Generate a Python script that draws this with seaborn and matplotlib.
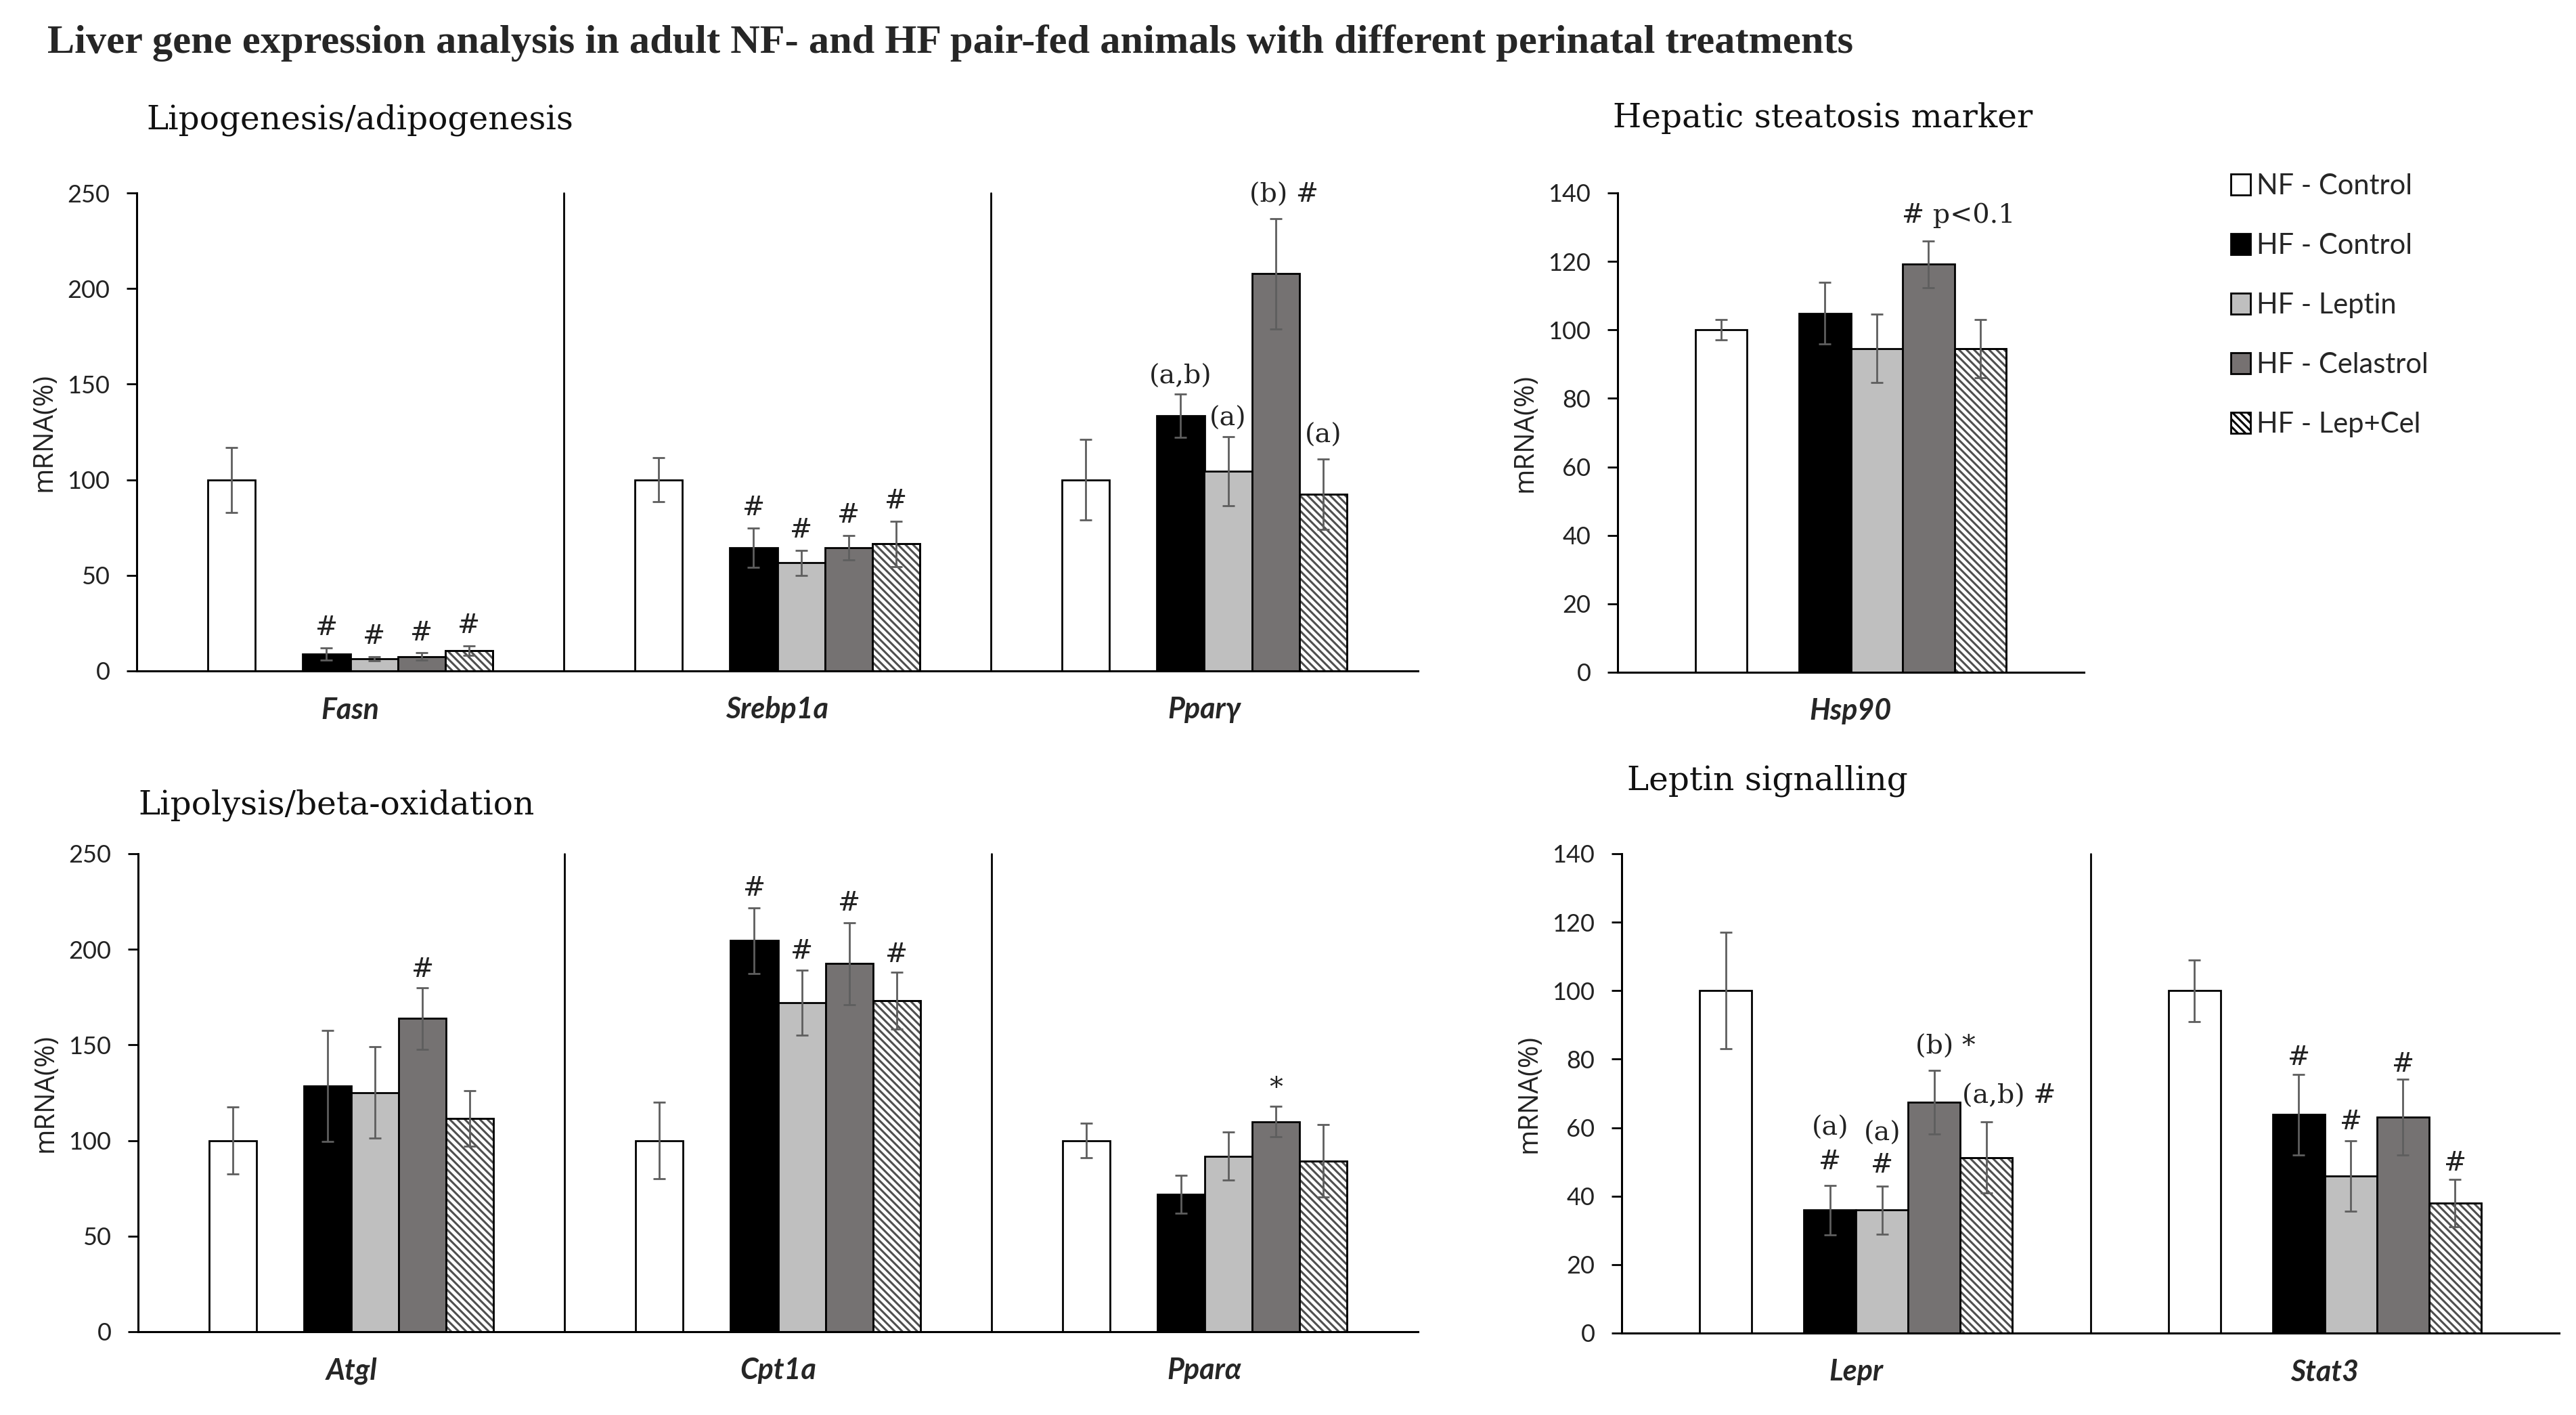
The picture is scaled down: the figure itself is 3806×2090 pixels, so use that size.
import numpy as np
import pandas as pd
import matplotlib
matplotlib.use("Agg")
import matplotlib.pyplot as plt
from matplotlib.patches import Patch
import seaborn as sns

# groups and bar styles
groups = ["NF - Control", "HF - Control", "HF - Leptin", "HF - Celastrol", "HF - Lep+Cel"]
colors = ["white", "black", "#bfbfbf", "#767171", "white"]
BLANK = " "

# Lipogenesis/adipogenesis (rows = genes, cols = groups)
lipo_genes = ["Fasn", "Srebp1a", "Pparγ"]
lipo_mean = [[100, 8.8, 6.4, 7.6, 10.7],
             [100, 64.5, 56.6, 64.5, 66.4],
             [100, 133.5, 104.5, 207.7, 92.4]]
lipo_err = [[17, 3.3, 1.0, 1.8, 2.5],
            [11.5, 10.3, 6.5, 6.3, 11.8],
            [21, 11.5, 18, 28.7, 18.5]]

# Hepatic steatosis marker
hep_genes = ["Hsp90"]
hep_mean = [[100, 104.9, 94.6, 119.2, 94.6]]
hep_err = [[3, 9, 10, 6.8, 8.5]]

# Lipolysis/beta-oxidation
beta_genes = ["Atgl", "Cpt1a", "Pparα"]
beta_mean = [[100, 128.6, 125.1, 163.8, 111.5],
             [100, 204.5, 172, 192.5, 173.2],
             [100, 71.8, 91.8, 109.9, 89.3]]
beta_err = [[17.6, 29, 24, 16, 14.6],
            [20, 17, 17, 21.5, 15],
            [9, 10, 12.5, 8, 19]]

# Leptin signalling
lep_genes = ["Lepr", "Stat3"]
lep_mean = [[100, 35.9, 35.9, 67.4, 51.3],
            [100, 63.8, 45.8, 63.1, 38]]
lep_err = [[17, 7.2, 7, 9.3, 10.4],
           [9, 11.7, 10.3, 11, 6.9]]

# significance labels: (gene, group, text, dx pt, dy pt above error bar)
lipo_notes = [(0, 1, "#", 0, 21), (0, 2, "#", 0, 21), (0, 3, "#", 0, 21), (0, 4, "#", 0, 21),
              (1, 1, "#", 0, 21), (1, 2, "#", 0, 21), (1, 3, "#", 0, 21), (1, 4, "#", 0, 21),
              (2, 1, "(a,b)", 0, 18), (2, 2, "(a)", 0, 19), (2, 3, "(b) #", 9, 25), (2, 4, "(a)", 0, 25)]
hep_notes = [(0, 3, "# p<0.1", 32, 27)]
beta_notes = [(0, 3, "#", 0, 19), (1, 1, "#", 0, 21), (1, 2, "#", 0, 20), (1, 3, "#", 0, 20),
              (1, 4, "#", 0, 18), (2, 3, "*", 0, 19)]
lep_notes = [(0, 1, "#", 0, 25), (0, 1, "(a)", 0, 61), (0, 2, "#", 0, 22), (0, 2, "(a)", 0, 56),
             (0, 3, "(b) *", 12, 25), (0, 4, "(a,b) #", 24, 27),
             (1, 1, "#", 0, 18), (1, 2, "#", 0, 20), (1, 3, "#", 0, 16), (1, 4, "#", 0, 17)]

sns.set_theme(style="white")
plt.rcParams["font.family"] = ["Lato", "DejaVu Sans"]
plt.rcParams["hatch.linewidth"] = 2.2

W, H = 3806, 2090
fig = plt.figure(figsize=(W / 100, H / 100), dpi=100)

order = [groups[0], BLANK] + groups[1:]
pal = dict(zip(groups, colors))
pal[BLANK] = "white"
bw = 1 / 9


def draw_panel(rect, genes, mean, err, ymax, ystep, notes):
    ax = fig.add_axes(rect)
    rows = []
    for gi, g in enumerate(genes):
        for k, grp in enumerate(groups):
            rows.append({"gene": g, "group": grp, "value": mean[gi][k]})
    df = pd.DataFrame(rows)
    sns.barplot(data=df, x="gene", y="value", hue="group", order=genes, hue_order=order,
                palette=pal, width=6 / 9, errorbar=None, edgecolor="black",
                linewidth=2, legend=False, ax=ax)

    # hatch the Lep+Cel bars (hatch colour follows edge colour, so re-outline)
    for p in ax.patches:
        c = p.get_x() + p.get_width() / 2
        slot = int(round((c - round(c)) * 9 + 2.5))
        if slot == 5:
            p.set_edgecolor("#4f4f4f")
            p.set_hatch("\\\\\\")
    xs_h = [gi + 2.5 * bw for gi in range(len(genes))]
    ax.bar(xs_h, [m[4] for m in mean], width=bw, fill=False, edgecolor="black",
           linewidth=2, zorder=3)

    xs, vals, errs = [], [], []
    for gi in range(len(genes)):
        for k, grp in enumerate(groups):
            xs.append(gi + (order.index(grp) - 2.5) * bw)
            vals.append(mean[gi][k])
            errs.append(err[gi][k])
    ax.errorbar(xs, vals, yerr=errs, fmt="none", ecolor="#5e5e5e", elinewidth=2,
                capsize=6.5, capthick=2, zorder=5)

    for gi, k, txt, dx, dy in notes:
        x = gi + (order.index(groups[k]) - 2.5) * bw
        ax.annotate(txt, xy=(x, mean[gi][k] + err[gi][k]), xytext=(dx, dy),
                    textcoords="offset points", ha="center", va="center",
                    fontsize=28.5, family="DejaVu Serif", color="#222222")

    for i in range(len(genes) - 1):
        ax.plot([i + 0.5, i + 0.5], [0, ymax], color="black", lw=2, clip_on=False, zorder=1)

    ax.set_xlim(-0.5, len(genes) - 0.5)
    ax.set_ylim(0, ymax)
    ax.set_yticks(np.arange(0, ymax + 1, ystep))
    ax.set_xticks(range(len(genes)))
    ax.set_xticklabels(genes, fontsize=31, fontweight="bold", fontstyle="italic",
                       family=["Lato", "DejaVu Sans"])
    ax.tick_params(axis="x", length=0, pad=27)
    ax.tick_params(axis="y", direction="out", length=10.5, width=2, pad=18,
                   labelsize=26, color="black", left=True)
    for lab in ax.get_yticklabels():
        lab.set_color("#222222")
    ax.set_xlabel("")
    ax.set_ylabel("mRNA(%)", fontsize=29, family="Open Sans", labelpad=10, color="#222222")
    for s in ["top", "right"]:
        ax.spines[s].set_visible(False)
    for s in ["left", "bottom"]:
        ax.spines[s].set_color("black")
        ax.spines[s].set_linewidth(2.2)
    ax.grid(False)
    return ax


draw_panel([202 / W, 1 - 991 / H, 1893 / W, 706 / H], lipo_genes, lipo_mean, lipo_err, 250, 50, lipo_notes)
draw_panel([2390 / W, 1 - 993 / H, 689 / W, 708 / H], hep_genes, hep_mean, hep_err, 140, 20, hep_notes)
draw_panel([204 / W, 1 - 1967 / H, 1891 / W, 706 / H], beta_genes, beta_mean, beta_err, 250, 50, beta_notes)
draw_panel([2396 / W, 1 - 1969 / H, 1385 / W, 708 / H], lep_genes, lep_mean, lep_err, 140, 20, lep_notes)

fig.text(70 / W, 1 - 64 / H,
         "Liver gene expression analysis in adult NF- and HF pair-fed animals with different perinatal treatments",
         ha="left", va="center", fontsize=43.5, fontweight="bold", family="Liberation Serif")
sub_font = dict(ha="left", va="center", fontsize=35, family="DejaVu Serif", color="#111111")
fig.text(216 / W, 1 - 177 / H, "Lipogenesis/adipogenesis", **sub_font)
fig.text(2383 / W, 1 - 175 / H, "Hepatic steatosis marker", **sub_font)
fig.text(204 / W, 1 - 1189 / H, "Lipolysis/beta-oxidation", **sub_font)
fig.text(2404 / W, 1 - 1153 / H, "Leptin signalling", **sub_font)

handles = [Patch(facecolor=c, edgecolor="black", linewidth=2, hatch="\\\\\\" if i == 4 else None)
           for i, c in enumerate(colors)]
fig.legend(handles, groups, loc="upper left", bbox_to_anchor=(3296 / W, 1 - 256 / H),
           frameon=False, fontsize=30, handlelength=0.7, handleheight=0.75,
           handletextpad=0.2, labelspacing=1.2, borderpad=0, borderaxespad=0)

fig.savefig("out.png", dpi=100)
